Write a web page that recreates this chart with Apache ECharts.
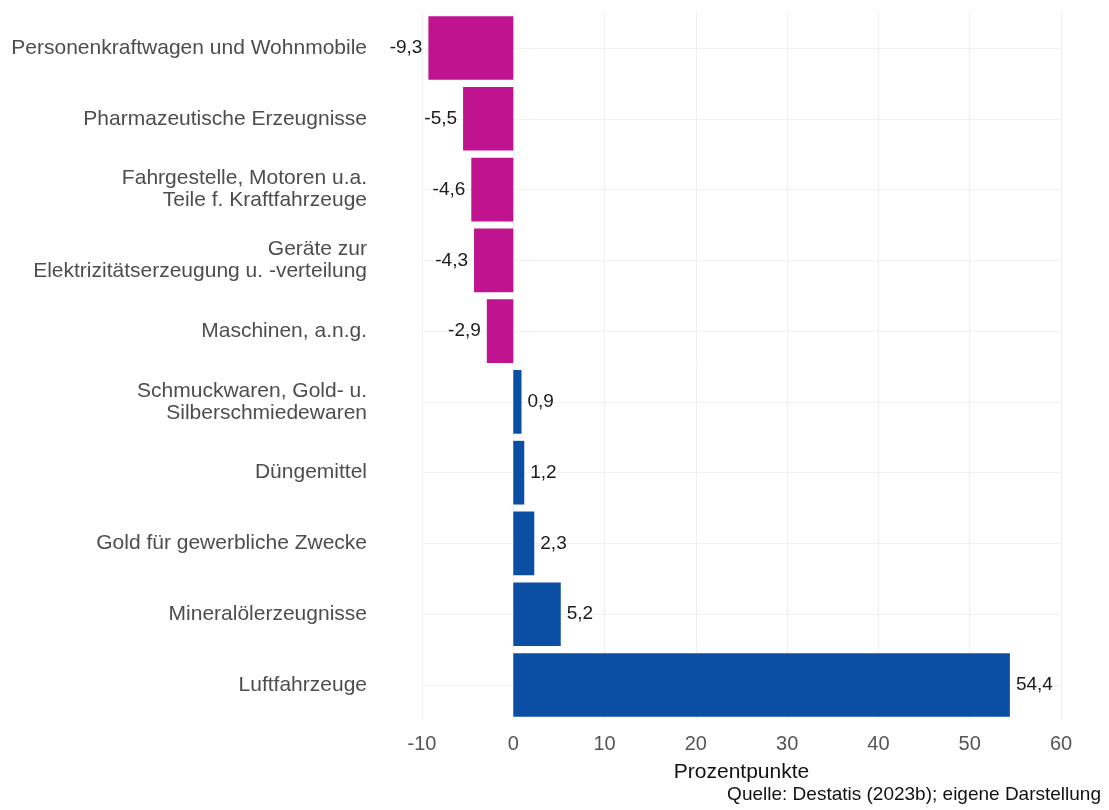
<!DOCTYPE html>
<html>
<head>
<meta charset="utf-8">
<script src="https://cdn.jsdelivr.net/npm/echarts@6/dist/echarts.min.js"></script>
<style>
  html, body { margin: 0; padding: 0; background: #fff; }
  #chart { width: 1109px; height: 810px; }
</style>
</head>
<body>
<div id="chart"></div>
<script>
const categories = [
  'Personenkraftwagen und Wohnmobile',
  'Pharmazeutische Erzeugnisse',
  'Fahrgestelle, Motoren u.a.\nTeile f. Kraftfahrzeuge',
  'Geräte zur\nElektrizitätserzeugung u. -verteilung',
  'Maschinen, a.n.g.',
  'Schmuckwaren, Gold- u.\nSilberschmiedewaren',
  'Düngemittel',
  'Gold für gewerbliche Zwecke',
  'Mineralölerzeugnisse',
  'Luftfahrzeuge',
];
const values = [-9.3, -5.5, -4.6, -4.3, -2.9, 0.9, 1.2, 2.3, 5.2, 54.4];

const font = "'Liberation Sans', Arial, sans-serif";
const negColor = '#bf138f';
const posColor = '#0b4fa4';

const chart = echarts.init(document.getElementById('chart'));

const barData = values.map(function (v) {
  return {
    value: v,
    itemStyle: { color: v < 0 ? negColor : posColor },
    label: { position: v < 0 ? 'left' : 'right' },
  };
});

chart.setOption({
  animation: false,
  textStyle: { fontFamily: font },
  grid: { left: 422, right: 48, top: 12.6, bottom: 89.6 },
  title: {
    text: 'Quelle: Destatis (2023b); eigene Darstellung',
    right: 3,
    bottom: 1,
    textStyle: { fontFamily: font, fontSize: 19, fontWeight: 'normal', color: '#111' },
  },
  xAxis: {
    type: 'value',
    min: -10,
    max: 60,
    interval: 10,
    name: 'Prozentpunkte',
    nameLocation: 'middle',
    nameGap: 41,
    nameTextStyle: { fontFamily: font, fontSize: 21, color: '#111' },
    axisLine: { show: false },
    axisTick: { show: false },
    axisLabel: { fontFamily: font, fontSize: 20, color: '#555', margin: 14 },
    splitLine: { show: true, lineStyle: { color: '#eeeeee', width: 1 } },
  },
  yAxis: {
    type: 'category',
    data: categories,
    inverse: true,
    axisLine: { show: false },
    axisTick: { show: false, alignWithLabel: true },
    axisLabel: {
      fontFamily: font,
      fontSize: 21,
      color: '#4d4d4d',
      margin: 55,
      lineHeight: 22,
      align: 'right',
    },
    splitLine: { show: true, alignWithLabel: true, lineStyle: { color: '#f1f1f1', width: 1 } },
  },
  series: [
    {
      type: 'bar',
      data: barData,
      barWidth: '90%',
      label: {
        show: true,
        distance: 6,
        fontFamily: font,
        fontSize: 19,
        color: '#1a1a1a',
        formatter: function (p) {
          return p.value.toFixed(1).replace('.', ',');
        },
      },
    },
  ],
});
</script>
</body>
</html>
